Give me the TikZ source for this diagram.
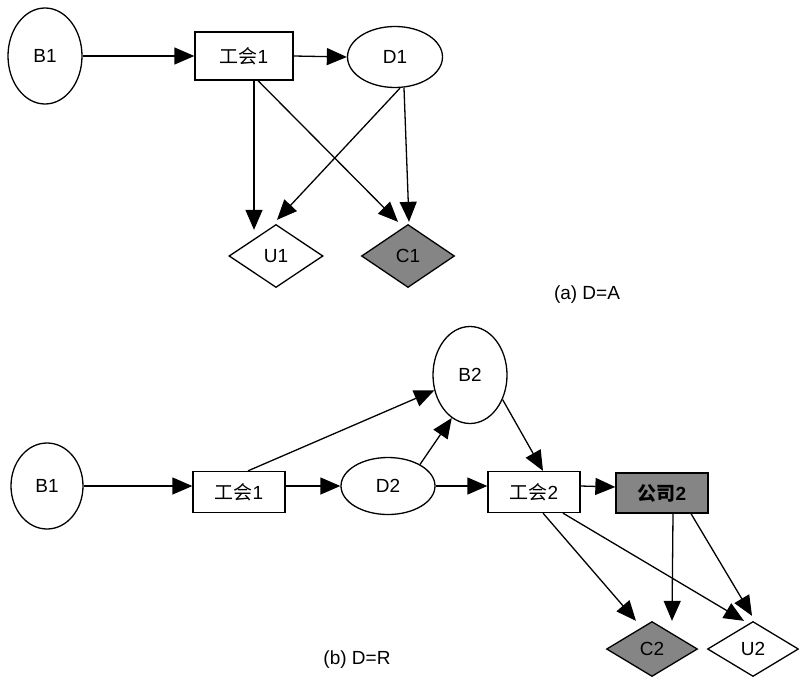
\documentclass[tikz,border=0pt]{standalone}
\usepackage{fontspec}
\setmainfont{Liberation Sans}
\newfontfamily\cjk{Noto Sans CJK SC}
\usetikzlibrary{shapes.geometric,arrows.meta}
\begin{document}
\begin{tikzpicture}[x=1pt,y=-1pt,
  every node/.style={font=\fontsize{19}{22}\selectfont, inner sep=0pt, line width=1.3pt},
  ell/.style={draw, ellipse},
  box/.style={draw, rectangle},
  dia/.style={draw, diamond},
  shaded/.style={fill=black!48},
  arr/.style={-{Triangle[length=20pt,width=17pt]}, line width=1.3pt},
  captxt/.style={font=\fontsize{19}{22}\selectfont}
]
\useasboundingbox (0,0) rectangle (799,677);

% ---------- (a) ----------
\node[ell, minimum width=74pt, minimum height=96pt] (B1a) at (45,56) {B1};
\node[box, minimum width=98pt, minimum height=48pt] (G1a) at (244,56) {{\cjk 工会}1};
\node[ell, minimum width=95pt, minimum height=61pt] (D1) at (395,57) {D1};
\node[dia, minimum width=94pt, minimum height=63pt] (U1) at (276,256) {U1};
\node[dia, shaded, minimum width=93pt, minimum height=63pt] (C1) at (408,256) {C1};
\node[captxt] (capa) at (587,295) {(a) D=A};

\draw[arr] (B1a.east) -- (G1a.west);
\draw[arr] (G1a.east) -- (D1.west);
\draw[arr] ([xshift=10pt]G1a.south) -- ([xshift=-22pt,yshift=-6pt]U1.north);
\draw[arr] ([xshift=14pt]G1a.south) -- ([xshift=-10pt,yshift=2pt]C1.north);
\draw[arr] ([xshift=5pt]D1.south) -- ([xshift=1pt,yshift=4pt]U1.north);
\draw[arr] ([xshift=9pt]D1.south) -- ([xshift=1pt,yshift=2pt]C1.north);

% ---------- (b) ----------
\node[ell, minimum width=72pt, minimum height=86pt] (B1b) at (47,486) {B1};
\node[box, minimum width=92pt, minimum height=41pt] (G1b) at (239,492) {{\cjk 工会}1};
\node[ell, minimum width=94pt, minimum height=57pt] (D2) at (388,486) {D2};
\node[ell, minimum width=74pt, minimum height=97pt] (B2) at (470,375) {B2};
\node[box, minimum width=92pt, minimum height=41pt] (G2) at (534,492) {{\cjk 工会}2};
\node[box, shaded, minimum width=92pt, minimum height=40pt] (K2) at (662,493) {{\cjk\bfseries 公司}\textbf{2}};
\node[dia, shaded, minimum width=91pt, minimum height=55pt] (C2) at (652,649) {C2};
\node[dia, minimum width=91pt, minimum height=55pt] (U2) at (753,649) {U2};
\node[captxt] (capb) at (357,660) {(b) D=R};

\draw[arr] (B1b.east) -- ([yshift=6pt]G1b.west);
\draw[arr] ([yshift=6pt]G1b.east) -- (D2.west);
\draw[arr] (D2.east) -- ([yshift=6pt]G2.west);
\draw[arr] ([yshift=6pt]G2.east) -- ([yshift=6pt]K2.west);
\draw[arr] ([xshift=9pt]G1b.north) -- (B2);
\draw[arr] (D2.34) -- (B2.247);
\draw[arr] (B2.-37) -- ([xshift=9pt]G2.north);
\draw[arr] ([xshift=9pt]G2.south) -- ([xshift=-16pt]C2.north);
\draw[arr] ([xshift=29pt]G2.south) -- ([xshift=-9pt]U2.north);
\draw[arr] ([xshift=11pt]K2.south) -- ([xshift=20pt]C2.north);
\draw[arr] ([xshift=29pt]K2.south) -- ([xshift=-1pt,yshift=5pt]U2.north);
\end{tikzpicture}
\end{document}
